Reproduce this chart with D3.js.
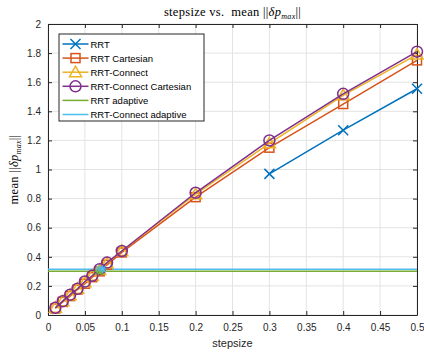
<!DOCTYPE html>
<html>
<head>
<meta charset="utf-8">
<script src="https://cdn.jsdelivr.net/npm/d3@7"></script>
<style>
  body { margin: 0; background: #fff; }
  svg { display: block; }
  .tick text { font-family: "Liberation Sans", Arial, sans-serif; font-size: 10px; fill: #262626; }
</style>
</head>
<body>
<svg id="chart"></svg>
<script>
var stepsize = [0.01, 0.02, 0.03, 0.04, 0.05, 0.06, 0.07, 0.08, 0.1, 0.2, 0.3, 0.4, 0.5];
var rrt = [null, null, null, null, null, null, null, null, null, null, 0.97, 1.27, 1.555];
var rrtCartesian = [0.045, 0.09, 0.13, 0.175, 0.215, 0.26, 0.30, 0.345, 0.43, 0.81, 1.15, 1.45, 1.75];
var rrtConnect = [0.05, 0.095, 0.135, 0.18, 0.225, 0.27, 0.31, 0.355, 0.44, 0.83, 1.18, 1.51, 1.79];
var rrtConnectCartesian = [0.05, 0.095, 0.14, 0.18, 0.23, 0.27, 0.315, 0.36, 0.44, 0.84, 1.2, 1.52, 1.81];
var rrtAdaptive = 0.30;
var rrtConnectAdaptive = 0.315;
var adaptiveStep = [0.068, 0.072];
var xTicks = [0, 0.05, 0.1, 0.15, 0.2, 0.25, 0.3, 0.35, 0.4, 0.45, 0.5];
var yTicks = [0, 0.2, 0.4, 0.6, 0.8, 1, 1.2, 1.4, 1.6, 1.8, 2];

var width = 424, height = 356;
var mLeft = 48, mRight = 417, mTop = 24, mBottom = 315;

var svg = d3.select('#chart')
  .attr('width', width)
  .attr('height', height);

var xScale = d3.scaleLinear().domain([0, 0.5]).range([mLeft, mRight]);
var yScale = d3.scaleLinear().domain([0, 2]).range([mBottom, mTop]);

// grid
svg.append('g').selectAll('line')
  .data(xTicks)
  .enter().append('line')
    .attr('x1', d => xScale(d)).attr('x2', d => xScale(d))
    .attr('y1', mTop).attr('y2', mBottom)
    .attr('stroke', '#e3e3e3').attr('stroke-width', 1);
svg.append('g').selectAll('line')
  .data(yTicks)
  .enter().append('line')
    .attr('x1', mLeft).attr('x2', mRight)
    .attr('y1', d => yScale(d)).attr('y2', d => yScale(d))
    .attr('stroke', '#e3e3e3').attr('stroke-width', 1);

// axes
var fmt = d => String(+d.toFixed(2));
var xAxis = d3.axisBottom(xScale).tickValues(xTicks).tickFormat(fmt).tickSize(-4).tickSizeOuter(0).tickPadding(9);
var yAxis = d3.axisLeft(yScale).tickValues(yTicks).tickFormat(fmt).tickSize(-4).tickSizeOuter(0).tickPadding(7);
var xTop = d3.axisTop(xScale).tickValues(xTicks).tickFormat('').tickSize(-4).tickSizeOuter(0);
var yRight = d3.axisRight(yScale).tickValues(yTicks).tickFormat('').tickSize(-4).tickSizeOuter(0);

[[xAxis, 'translate(0,' + mBottom + ')'], [yAxis, 'translate(' + mLeft + ',0)'],
 [xTop, 'translate(0,' + mTop + ')'], [yRight, 'translate(' + mRight + ',0)']].forEach(function(a){
  var g = svg.append('g').attr('transform', a[1]).call(a[0]);
  g.selectAll('path, line').attr('stroke', '#262626');
});

var colors = ['#0072BD', '#D95319', '#EDB120', '#7E2F8E', '#77AC30', '#4DBEEE'];

// adaptive lines
svg.append('line')
  .attr('x1', xScale(0)).attr('x2', xScale(0.5))
  .attr('y1', yScale(rrtAdaptive)).attr('y2', yScale(rrtAdaptive))
  .attr('stroke', colors[4]).attr('stroke-width', 1.5);
svg.append('line')
  .attr('x1', xScale(0)).attr('x2', xScale(0.5))
  .attr('y1', yScale(rrtConnectAdaptive)).attr('y2', yScale(rrtConnectAdaptive))
  .attr('stroke', colors[5]).attr('stroke-width', 1.5);

function marker(g, type, color, cx, cy) {
  if (type === 'x') {
    g.append('path').attr('d', 'M' + (cx - 5) + ',' + (cy - 5) + 'L' + (cx + 5) + ',' + (cy + 5) + 'M' + (cx - 5) + ',' + (cy + 5) + 'L' + (cx + 5) + ',' + (cy - 5))
      .attr('stroke', color).attr('stroke-width', 1.5).attr('fill', 'none');
  } else if (type === 'square') {
    g.append('rect').attr('x', cx - 4.5).attr('y', cy - 4.5).attr('width', 9).attr('height', 9)
      .attr('stroke', color).attr('stroke-width', 1.5).attr('fill', 'none');
  } else if (type === 'triangle') {
    g.append('path').attr('d', 'M' + cx + ',' + (cy - 6) + 'L' + (cx + 6) + ',' + (cy + 4.5) + 'L' + (cx - 6) + ',' + (cy + 4.5) + 'Z')
      .attr('stroke', color).attr('stroke-width', 1.5).attr('fill', 'none');
  } else if (type === 'circle') {
    g.append('circle').attr('cx', cx).attr('cy', cy).attr('r', 5.5)
      .attr('stroke', color).attr('stroke-width', 1.5).attr('fill', 'none');
  } else if (type === 'star') {
    g.append('path').attr('d', 'M' + (cx - 4) + ',' + cy + 'L' + (cx + 4) + ',' + cy + 'M' + cx + ',' + (cy - 4) + 'L' + cx + ',' + (cy + 4) +
      'M' + (cx - 3) + ',' + (cy - 3) + 'L' + (cx + 3) + ',' + (cy + 3) + 'M' + (cx - 3) + ',' + (cy + 3) + 'L' + (cx + 3) + ',' + (cy - 3))
      .attr('stroke', color).attr('stroke-width', 1.2).attr('fill', 'none');
  }
}

var series = [
  {name: 'RRT', values: rrt, color: colors[0], mark: 'x'},
  {name: 'RRT Cartesian', values: rrtCartesian, color: colors[1], mark: 'square'},
  {name: 'RRT-Connect', values: rrtConnect, color: colors[2], mark: 'triangle'},
  {name: 'RRT-Connect Cartesian', values: rrtConnectCartesian, color: colors[3], mark: 'circle'}
];

var line = d3.line()
  .defined(d => d[1] != null)
  .x(d => xScale(d[0]))
  .y(d => yScale(d[1]));

series.forEach(function(s){
  var pts = stepsize.map((x, i) => [x, s.values[i]]);
  svg.append('path')
    .datum(pts)
    .attr('d', line)
    .attr('fill', 'none')
    .attr('stroke', s.color)
    .attr('stroke-width', 1.5);
  var g = svg.append('g');
  pts.filter(p => p[1] != null).forEach(p => marker(g, s.mark, s.color, xScale(p[0]), yScale(p[1])));
});

// adaptive result markers
var ga = svg.append('g');
adaptiveStep.forEach(function(x){
  marker(ga, 'star', colors[4], xScale(x), yScale(rrtAdaptive));
  marker(ga, 'star', colors[5], xScale(x + 0.002), yScale(rrtConnectAdaptive));
});

// legend
var lg = svg.append('g');
lg.append('rect')
  .attr('x', 59).attr('y', 34).attr('width', 145).attr('height', 87)
  .attr('fill', '#fff').attr('stroke', '#262626').attr('stroke-width', 1);
var legendItems = series.concat([
  {name: 'RRT adaptive', color: colors[4], mark: null},
  {name: 'RRT-Connect adaptive', color: colors[5], mark: null}
]);
legendItems.forEach(function(s, i){
  var y = 44 + i * 14.1;
  lg.append('line').attr('x1', 62.5).attr('x2', 88.5).attr('y1', y).attr('y2', y)
    .attr('stroke', s.color).attr('stroke-width', 1.5);
  if (s.mark) marker(lg, s.mark, s.color, 75.5, y);
  lg.append('text').attr('x', 90.5).attr('y', y + 3.5)
    .style('font-family', '"Liberation Sans", Arial, sans-serif')
    .style('font-size', '9.5px').attr('fill', '#000')
    .text(s.name);
});

// titles
function mathLabel(t) {
  t.append('tspan').text('mean ||');
  t.append('tspan').style('font-style', 'italic').text('\u03B4p');
  t.append('tspan').style('font-style', 'italic').style('font-size', '8px').attr('dy', 3).text('max');
  t.append('tspan').attr('dy', -3).text('||');
}

var title = svg.append('text')
  .attr('x', (mLeft + mRight) / 2).attr('y', 16)
  .attr('text-anchor', 'middle')
  .style('font-family', '"Liberation Serif", "DejaVu Serif", serif')
  .style('font-size', '12.5px').attr('fill', '#000')
  .attr('letter-spacing', 0.3);
title.append('tspan').text('stepsize vs.\u00A0 ');
mathLabel(title);

var ylab = svg.append('text')
  .attr('transform', 'translate(18,' + ((mTop + mBottom) / 2) + ') rotate(-90)')
  .attr('text-anchor', 'middle')
  .style('font-family', '"Liberation Serif", "DejaVu Serif", serif')
  .style('font-size', '12.5px').attr('fill', '#000')
  .attr('letter-spacing', 0.3);
mathLabel(ylab);

svg.append('text')
  .attr('x', (mLeft + mRight) / 2).attr('y', 347)
  .attr('text-anchor', 'middle')
  .style('font-family', '"Liberation Sans", Arial, sans-serif')
  .style('font-size', '11px').attr('fill', '#262626')
  .text('stepsize');
</script>
</body>
</html>
